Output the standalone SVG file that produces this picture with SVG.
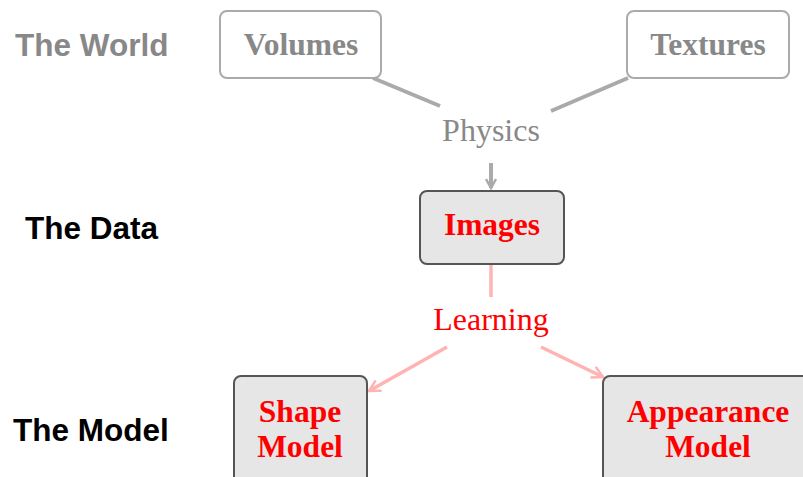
<svg xmlns="http://www.w3.org/2000/svg" width="803" height="477" viewBox="0 0 803 477">
<defs>
<style>
.lab{font-family:"Liberation Sans",Arial,sans-serif;font-weight:bold;font-size:31.5px}
.nt{font-family:"Liberation Serif","Times New Roman",serif;font-weight:bold;font-size:31.5px;text-anchor:middle}
.et{font-family:"Liberation Serif","Times New Roman",serif;font-size:32px;text-anchor:middle}
.world{fill:#fff;stroke:#aaa;stroke-width:2}
.data{fill:#e6e6e6;stroke:#555;stroke-width:2}
.g{stroke:#aaa;stroke-width:4;fill:none}
.p{stroke:#ffb3b3;stroke-width:3.5;fill:none}
</style>
<marker id="ag" viewBox="0 0 12 12" refX="10" refY="6" markerWidth="12" markerHeight="12" markerUnits="userSpaceOnUse" orient="auto">
<path d="M1,1 L10,6 L1,11" fill="none" stroke="#aaa" stroke-width="2.5"/>
</marker>
<marker id="ap" viewBox="0 0 14 14" refX="12" refY="7" markerWidth="14" markerHeight="14" markerUnits="userSpaceOnUse" orient="auto">
<path d="M1,1 L12,7 L1,13" fill="none" stroke="#ffb3b3" stroke-width="2.5"/>
</marker>
</defs>
<rect width="803" height="477" fill="#fff"/>
<text class="lab" x="15" y="56" fill="#888">The World</text>
<text class="lab" x="25" y="239" fill="#000">The Data</text>
<text class="lab" x="13" y="441" fill="#000">The Model</text>
<g id="connectors">
<line class="g" x1="373" y1="78" x2="440" y2="106"/>
<line class="g" x1="628" y1="78" x2="551" y2="111"/>
<text class="et" x="491" y="141" fill="#888">Physics</text>
<line class="g" x1="491" y1="163" x2="491" y2="188" stroke-width="3" marker-end="url(#ag)"/>
<line class="p" x1="491" y1="265" x2="491" y2="297"/>
<text class="et" x="491" y="330" fill="#f00">Learning</text>
<line class="p" x1="447" y1="347" x2="369" y2="391" marker-end="url(#ap)"/>
<line class="p" x1="541" y1="347" x2="603" y2="377" marker-end="url(#ap)"/>
</g>
<g id="volumes">
<rect class="world" x="220" y="11" width="161" height="67" rx="7"/>
<text class="nt" x="301" y="55" fill="#888">Volumes</text>
</g>
<g id="textures">
<rect class="world" x="627" y="11" width="162" height="67" rx="7"/>
<text class="nt" x="708" y="55" fill="#888">Textures</text>
</g>
<g id="images">
<rect class="data" x="420" y="191" width="144" height="73" rx="7"/>
<text class="nt" x="492" y="235" fill="#f00">Images</text>
</g>
<g id="shape">
<rect class="data" x="234" y="376" width="133" height="110" rx="7"/>
<text class="nt" x="300" y="422" fill="#f00">Shape</text>
<text class="nt" x="300" y="457" fill="#f00">Model</text>
</g>
<g id="appearance">
<rect class="data" x="603" y="376" width="215" height="110" rx="7"/>
<text class="nt" x="708" y="422" fill="#f00">Appearance</text>
<text class="nt" x="708" y="457" fill="#f00">Model</text>
</g>
</svg>
